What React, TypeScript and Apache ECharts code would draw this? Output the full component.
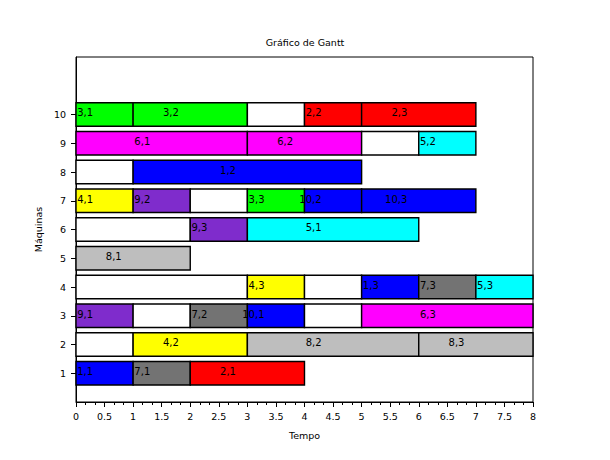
import React, { useEffect, useRef } from "react";
import * as echarts from "echarts";

// [start, end, label, colour] per machine; label "" = idle (white)
const machines = [1, 2, 3, 4, 5, 6, 7, 8, 9, 10];
const m1 = [[0, 1, "1,1", "blue"], [1, 2, "7,1", "dgray"], [2, 4, "2,1", "red"]];
const m2 = [[0, 1, "", "white"], [1, 3, "4,2", "yellow"], [3, 6, "8,2", "lgray"], [6, 8, "8,3", "lgray"]];
const m3 = [[0, 1, "9,1", "purple"], [1, 2, "", "white"], [2, 3, "7,2", "dgray"], [3, 4, "10,1", "blue"], [4, 5, "", "white"], [5, 8, "6,3", "magenta"]];
const m4 = [[0, 3, "", "white"], [3, 4, "4,3", "yellow"], [4, 5, "", "white"], [5, 6, "1,3", "blue"], [6, 7, "7,3", "dgray"], [7, 8, "5,3", "cyan"]];
const m5 = [[0, 2, "8,1", "lgray"]];
const m6 = [[0, 2, "", "white"], [2, 3, "9,3", "purple"], [3, 6, "5,1", "cyan"]];
const m7 = [[0, 1, "4,1", "yellow"], [1, 2, "9,2", "purple"], [2, 3, "", "white"], [3, 4, "3,3", "green"], [4, 5, "10,2", "blue"], [5, 7, "10,3", "blue"]];
const m8 = [[0, 1, "", "white"], [1, 5, "1,2", "blue"]];
const m9 = [[0, 3, "6,1", "magenta"], [3, 5, "6,2", "magenta"], [5, 6, "", "white"], [6, 7, "5,2", "cyan"]];
const m10 = [[0, 1, "3,1", "green"], [1, 3, "3,2", "green"], [3, 4, "", "white"], [4, 5, "2,2", "red"], [5, 7, "2,3", "red"]];
const rows = [m1, m2, m3, m4, m5, m6, m7, m8, m9, m10];

const palette: Record<string, string> = {
  blue: "#0000ff",
  red: "#ff0000",
  green: "#00ff00",
  yellow: "#ffff00",
  cyan: "#00ffff",
  magenta: "#ff00ff",
  purple: "#7f2ccc",
  dgray: "#737373",
  lgray: "#bebebe",
  white: "#ffffff",
};

const xTicks = { min: 0, max: 8, interval: 0.5 };
const yTicks = [1, 2, 3, 4, 5, 6, 7, 8, 9, 10];

const FONT = "DejaVu Sans";

export default function App() {
  const ref = useRef<HTMLDivElement>(null);
  useEffect(() => {
    const chart = echarts.init(ref.current!, null, { renderer: "svg" });
    const data: any[] = [];
    rows.forEach((row, i) => {
      row.forEach((s: any) => {
        data.push({ value: [s[0], s[1], machines[i], s[2], s[3]] });
      });
    });
    chart.setOption({
      animation: false,
      backgroundColor: "#ffffff",
      title: {
        text: "Gráfico de Gantt",
        left: "center",
        top: 32,
        textStyle: { fontFamily: FONT, fontSize: 9.5, fontWeight: "normal", color: "#000" },
      },
      grid: {
        left: 76,
        right: 77,
        top: 57,
        bottom: 58,
        show: true,
        borderColor: "#000",
        borderWidth: 1,
        backgroundColor: "#fff",
      },
      xAxis: {
        type: "value",
        min: xTicks.min,
        max: xTicks.max,
        interval: xTicks.interval,
        name: "Tempo",
        nameLocation: "middle",
        nameGap: 28,
        nameTextStyle: { fontFamily: FONT, fontSize: 9.5, color: "#000" },
        axisLine: { show: true, lineStyle: { color: "#000", width: 1 } },
        axisTick: { show: true, length: 5, lineStyle: { color: "#000" } },
        minorTick: { show: true, splitNumber: 3, length: 3, lineStyle: { color: "#000" } },
        splitLine: { show: false },
        axisLabel: { fontFamily: FONT, fontSize: 9.5, color: "#000", margin: 9 },
      },
      yAxis: {
        type: "value",
        min: 0,
        max: 12,
        interval: 1,
        name: "Máquinas",
        nameLocation: "middle",
        nameGap: 27,
        nameRotate: 90,
        nameTextStyle: { fontFamily: FONT, fontSize: 9.5, color: "#000" },
        axisLine: { show: true, lineStyle: { color: "#000", width: 1 } },
        axisTick: { show: true, length: 5, customValues: yTicks, lineStyle: { color: "#000" } },
        splitLine: { show: false },
        axisLabel: { fontFamily: FONT, fontSize: 9.5, color: "#000", margin: 10, customValues: yTicks },
      },
      series: [
        {
          type: "custom",
          data,
          renderItem: (params: any, api: any) => {
            const s = api.value(0);
            const e = api.value(1);
            const m = api.value(2);
            const lbl = data[params.dataIndex].value[3];
            const col = data[params.dataIndex].value[4];
            const p0 = api.coord([s, m + 0.41]);
            const p1 = api.coord([e, m - 0.41]);
            const children: any[] = [
              {
                type: "rect",
                shape: { x: p0[0], y: p0[1], width: p1[0] - p0[0], height: p1[1] - p0[1] },
                style: { fill: palette[col], stroke: "#000", lineWidth: 1.4 },
              },
            ];
            if (lbl) {
              const tp = api.coord([s + (e - s - 1) / 2 + 0.3, m + 0.06]);
              children.push({
                type: "text",
                x: tp[0],
                y: tp[1],
                style: {
                  text: lbl,
                  fill: "#000",
                  font: `10px "${FONT}"`,
                  align: "right",
                  verticalAlign: "middle",
                },
              });
            }
            return { type: "group", children };
          },
        },
      ],
    });
    return () => chart.dispose();
  }, []);
  return <div ref={ref} style={{ width: 610, height: 460, position: "absolute", left: 0, top: 0 }} />;
}
